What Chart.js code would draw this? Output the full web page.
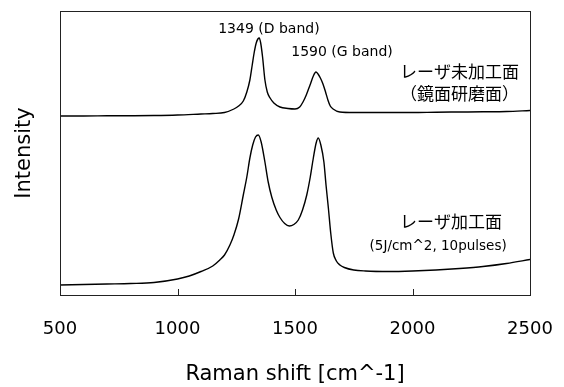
<!DOCTYPE html>
<html>
<head>
<meta charset="utf-8">
<script src="https://cdn.jsdelivr.net/npm/chart.js@4.4.1/dist/chart.umd.min.js"></script>
<style>
  html, body { margin: 0; padding: 0; background: #fff; }
  #wrap { width: 564px; height: 387px; }
</style>
</head>
<body>
<div id="wrap"><canvas id="raman"></canvas></div>
<script>
// Raman spectra, laser processed vs unprocessed surface
const xTicks = [500, 1000, 1500, 2000, 2500];

// upper trace: unprocessed (mirror polished) surface
const shiftUpper = [500, 600, 700, 800, 900, 1000, 1100, 1150, 1200, 1240, 1260, 1280, 1295, 1308,
  1318, 1326, 1335, 1342, 1348, 1354, 1362, 1372, 1382, 1394, 1410, 1436, 1470, 1500, 1520, 1534,
  1548, 1564, 1578, 1589, 1598, 1608, 1619, 1630, 1640, 1650, 1662, 1691, 1750, 1800, 1900, 2000,
  2100, 2200, 2300, 2400, 2500];
const intUpper = [179, 179, 179.2, 179.3, 179.5, 180, 181, 181.5, 182.5, 186, 189, 194, 203, 215,
  230, 242, 252, 256, 257, 252, 238, 215, 203, 197, 192, 188, 186.5, 186, 188, 193,
  200, 210, 219, 223, 221, 217, 211, 203, 195, 189, 186, 183, 182.5, 182.5, 182.5, 182.5,
  182.8, 183, 183.2, 183.5, 184.5];

// lower trace: laser processed surface
const shiftLower = [500, 600, 700, 800, 900, 1000, 1050, 1100, 1150, 1180, 1200, 1223, 1240, 1260,
  1280, 1295, 1308, 1320, 1332, 1344, 1356, 1372, 1386, 1401, 1420, 1436, 1456, 1476, 1495, 1514,
  1532, 1550, 1565, 1578, 1590, 1599, 1610, 1623, 1632, 1642, 1652, 1663, 1676, 1691, 1710, 1750,
  1800, 1900, 2000, 2100, 2200, 2300, 2400, 2500];
const intLower = [10, 10.5, 11, 11.5, 12.5, 16, 19, 23.5, 29, 35, 40, 50, 60, 76,
  100, 118, 137, 150, 158, 160, 153, 133, 113, 98, 85, 77.5, 71.5, 69, 70.5, 75,
  85, 100, 118, 137, 152, 157, 150, 133, 110, 87, 62, 42, 34, 30, 27.5, 25,
  24, 23.5, 24, 25, 26.5, 28.5, 31.5, 35.5];

// text labels placed in data units
const notes = [
  { text: '1349 (D band)', x: 1389, y: 266, size: 14, jp: false },
  { text: '1590 (G band)', x: 1700, y: 242.5, size: 14, jp: false },
  { text: 'レーザ未加工面', x: 2200, y: 223, size: 17, jp: true },
  { text: '（鏡面研磨面）', x: 2200, y: 201, size: 17, jp: true },
  { text: 'レーザ加工面', x: 2164, y: 73, size: 17, jp: true },
  { text: '(5J/cm^2, 10pulses)', x: 2109, y: 49, size: 13.5, jp: false }
];

const toPoints = (xs, ys) => xs.map((x, i) => ({ x: x, y: ys[i] }));

const frame = {
  id: 'frame',
  afterDraw(chart) {
    const { ctx, chartArea: a, scales } = chart;
    ctx.save();
    ctx.strokeStyle = '#222';
    ctx.lineWidth = 1;
    ctx.strokeRect(Math.round(a.left) + 0.5, Math.round(a.top) + 0.5,
      Math.round(a.right - a.left), Math.round(a.bottom - a.top));
    // inward tick marks on the bottom axis
    ctx.beginPath();
    xTicks.forEach(v => {
      const px = Math.round(scales.x.getPixelForValue(v)) + 0.5;
      ctx.moveTo(px, a.bottom);
      ctx.lineTo(px, a.bottom - 6);
    });
    ctx.stroke();
    // annotations
    ctx.fillStyle = '#000';
    ctx.textAlign = 'center';
    ctx.textBaseline = 'middle';
    notes.forEach(n => {
      ctx.font = n.size + 'px ' + (n.jp ? '"Noto Sans CJK JP"' : '"DejaVu Sans", "Noto Sans CJK JP"');
      ctx.fillText(n.text, scales.x.getPixelForValue(n.x), scales.y.getPixelForValue(n.y));
    });
    ctx.restore();
  }
};

const ctx = document.getElementById('raman').getContext('2d');
new Chart(ctx, {
  type: 'line',
  data: {
    datasets: [{
      label: 'unprocessed',
      data: toPoints(shiftUpper, intUpper),
      borderColor: '#000',
      borderWidth: 1.4,
      pointRadius: 0,
      cubicInterpolationMode: 'monotone'
    }, {
      label: 'processed',
      data: toPoints(shiftLower, intLower),
      borderColor: '#000',
      borderWidth: 1.4,
      pointRadius: 0,
      cubicInterpolationMode: 'monotone'
    }]
  },
  options: {
    responsive: true,
    maintainAspectRatio: false,
    animation: false,
    layout: { padding: { top: 11, right: 34, left: 0, bottom: 0 } },
    plugins: {
      legend: { display: false },
      tooltip: { enabled: false }
    },
    scales: {
      x: {
        type: 'linear',
        min: 500,
        max: 2500,
        afterBuildTicks: s => { s.ticks = xTicks.map(v => ({ value: v })); },
        afterFit: s => { s.height = 92; s.paddingLeft = 0; s.paddingRight = 0; },
        grid: { display: false, drawTicks: false },
        border: { display: false },
        ticks: {
          padding: 24,
          color: '#000',
          font: { family: '"DejaVu Sans"', size: 18 },
          maxRotation: 0,
          callback: v => String(v)
        },
        title: {
          display: true,
          text: 'Raman shift [cm^-1]',
          color: '#000',
          font: { family: '"DejaVu Sans"', size: 21 },
          padding: { top: 8.5, bottom: 0 }
        }
      },
      y: {
        type: 'linear',
        min: 0,
        max: 284,
        afterFit: s => { s.width = 60; },
        grid: { display: false },
        border: { display: false },
        ticks: { display: false },
        title: {
          display: true,
          text: 'Intensity',
          color: '#000',
          font: { family: '"DejaVu Sans"', size: 21 },
          padding: { top: 11.5, bottom: 0 }
        }
      }
    }
  },
  plugins: [frame]
});
</script>
</body>
</html>
